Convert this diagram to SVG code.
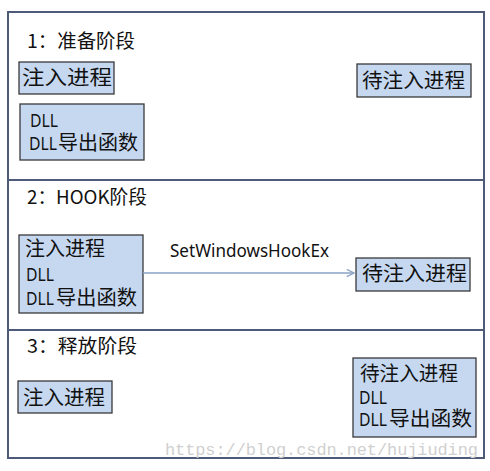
<svg xmlns="http://www.w3.org/2000/svg" width="490" height="471" viewBox="0 0 490 471">
<style>
.frame{fill:#fff;stroke:#4d5b78;stroke-width:2}
.box{fill:#c6d8f0;stroke:#3a3a3a;stroke-width:1.3}
.t{font-family:"Noto Sans CJK SC","Noto Sans",sans-serif;fill:#111}
.title{font-size:19px}
.cn{font-size:20px}
.lat{font-family:"Noto Sans","Noto Sans CJK SC",sans-serif;font-size:17.5px;fill:#111}
.conn{stroke:#8ba3c4;stroke-width:1.5;fill:none}
.wm{font-family:"Liberation Mono",monospace;font-size:17px;fill:#d0d0d0}
</style>
<defs>
<marker id="arr" viewBox="0 0 10 10" refX="9" refY="5" markerWidth="9" markerHeight="9" markerUnits="userSpaceOnUse" orient="auto">
<path d="M1,1 L9,5 L1,9" fill="none" stroke="#8ba3c4" stroke-width="1.5"/>
</marker>
</defs>
<rect width="490" height="471" fill="#fff"/>
<g id="stage1">
<rect class="frame" x="8" y="12" width="476" height="168"/>
<text class="t title" x="27" y="48" textLength="108" lengthAdjust="spacingAndGlyphs">1：准备阶段</text>
</g>
<g id="stage2">
<rect class="frame" x="8" y="180" width="476" height="150"/>
<text class="t title" x="27" y="204" textLength="120" lengthAdjust="spacingAndGlyphs">2：HOOK阶段</text>
</g>
<g id="stage3">
<rect class="frame" x="8" y="330" width="476" height="128"/>
<text class="t title" x="27" y="353" textLength="110" lengthAdjust="spacingAndGlyphs">3：释放阶段</text>
</g>
<g id="s1-inject">
<rect class="box" x="19" y="62" width="95" height="32"/>
<text class="t cn" x="22" y="85" textLength="90" lengthAdjust="spacingAndGlyphs">注入进程</text>
</g>
<g id="s1-dll">
<rect class="box" x="20" y="104" width="124" height="56"/>
<text class="lat" x="30" y="127" textLength="28" lengthAdjust="spacingAndGlyphs">DLL</text>
<text class="lat" x="29" y="150" textLength="28" lengthAdjust="spacingAndGlyphs">DLL</text>
<text class="t cn" x="58" y="150" textLength="80" lengthAdjust="spacingAndGlyphs">导出函数</text>
</g>
<g id="s1-target">
<rect class="box" x="357" y="64" width="114" height="33"/>
<text class="t cn" x="362" y="88" textLength="103" lengthAdjust="spacingAndGlyphs">待注入进程</text>
</g>
<g id="s2-inject">
<rect class="box" x="19" y="235" width="124" height="78"/>
<text class="t cn" x="25" y="256" textLength="80" lengthAdjust="spacingAndGlyphs">注入进程</text>
<text class="lat" x="26" y="281" textLength="28" lengthAdjust="spacingAndGlyphs">DLL</text>
<text class="lat" x="26" y="305" textLength="28" lengthAdjust="spacingAndGlyphs">DLL</text>
<text class="t cn" x="56" y="305" textLength="81" lengthAdjust="spacingAndGlyphs">导出函数</text>
</g>
<g id="s2-target">
<rect class="box" x="356" y="258" width="114" height="33"/>
<text class="t cn" x="362" y="281" textLength="105" lengthAdjust="spacingAndGlyphs">待注入进程</text>
</g>
<g id="s3-inject">
<rect class="box" x="18" y="381" width="94" height="32"/>
<text class="t cn" x="23" y="405" textLength="82" lengthAdjust="spacingAndGlyphs">注入进程</text>
</g>
<g id="s3-target">
<rect class="box" x="353" y="358" width="123" height="79"/>
<text class="t cn" x="360" y="381" textLength="98" lengthAdjust="spacingAndGlyphs">待注入进程</text>
<text class="lat" x="359" y="404" textLength="28" lengthAdjust="spacingAndGlyphs">DLL</text>
<text class="lat" x="359" y="426" textLength="28" lengthAdjust="spacingAndGlyphs">DLL</text>
<text class="t cn" x="389" y="426" textLength="83" lengthAdjust="spacingAndGlyphs">导出函数</text>
</g>
<g id="connectors">
<line class="conn" x1="143" y1="273" x2="354" y2="273" marker-end="url(#arr)"/>
<text class="lat" x="170" y="257" textLength="159" lengthAdjust="spacingAndGlyphs">SetWindowsHookEx</text>
</g>
<text class="wm" x="165" y="455" textLength="313">https://blog.csdn.net/hujiuding</text>
</svg>
